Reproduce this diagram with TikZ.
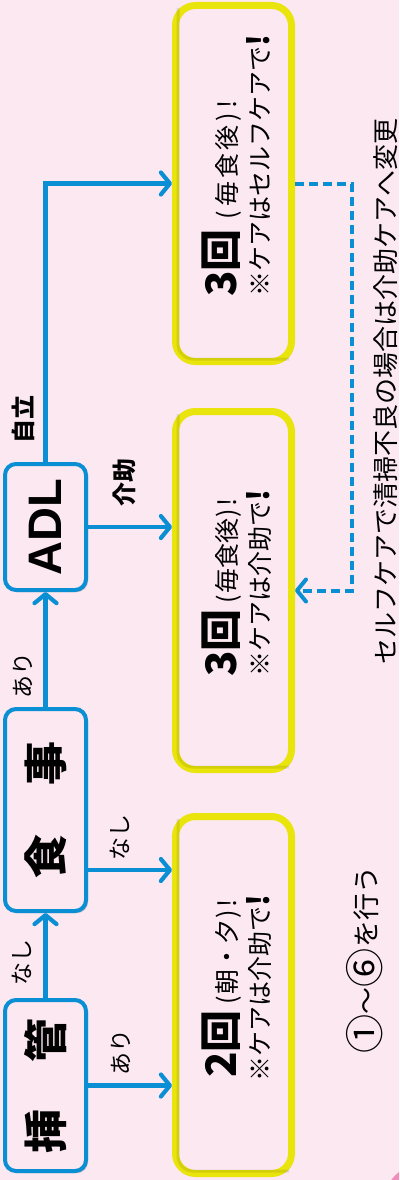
\documentclass[tikz,border=0pt]{standalone}
\usepackage{fontspec}
\setmainfont{Noto Sans CJK JP}
\newfontfamily\adlfont{Liberation Sans}
\usetikzlibrary{arrows.meta,shadows}
\definecolor{bg}{HTML}{FCE8F1}
\definecolor{blu}{HTML}{0A8ED4}
\definecolor{yel}{HTML}{E9E40C}
\definecolor{pk}{HTML}{F08DBA}
\newcommand{\circnum}[1]{\raisebox{-0.12em}{\scalebox{1.45}{#1}}}
\begin{document}
\begin{tikzpicture}[x=1pt,y=-1pt,
  bluebox/.style={draw=blu, line width=4pt, rounded corners=11pt, fill=bg, minimum width=81pt, inner sep=0pt,
    drop shadow={shadow xshift=2pt,shadow yshift=-2pt,opacity=.3,fill=black!70}},
  yelbox/.style={draw=yel, line width=7pt, rounded corners=20pt, fill=bg, minimum width=116pt, inner sep=0pt,
    drop shadow={shadow xshift=2.5pt,shadow yshift=-2.5pt,opacity=.3,fill=black!70}},
  inshade/.style={draw=black, opacity=.09, line width=3pt, rounded corners=15pt},
  arr/.style={draw=blu, line width=4.2pt, -{Straight Barb[round,length=9pt,width=22pt]}},
  dsh/.style={draw=blu, line width=4pt, dash pattern=on 9pt off 5pt, -{Straight Barb[round,length=9pt,width=22pt]}},
  lbl/.style={rotate=90, inner sep=0pt, font=\fontsize{23}{23}\selectfont},
  lblb/.style={rotate=90, inner sep=0pt, font=\fontsize{24}{24}\selectfont\bfseries},
  ln/.style={rotate=90, anchor=base west, inner sep=0pt}
]
\useasboundingbox (0,0) rectangle (399,1180);
\fill[bg] (0,0) rectangle (399,1180);
\begin{scope}
\clip (0,0) rectangle (399,1180);
\fill[pk] (425,1205) circle (42);
\end{scope}

% decision boxes
\node[bluebox, minimum height=171pt] (sokan) at (45.5,1085.5)
  {\rotatebox{90}{\fontsize{44}{44}\selectfont\bfseries 挿\hspace{47pt}管}};
\node[bluebox, minimum height=202pt] (shoku) at (45.5,810)
  {\rotatebox{90}{\fontsize{44}{44}\selectfont\bfseries 食\hspace{49pt}事}};
\node[bluebox, minimum height=126pt] (adl) at (45.5,527)
  {\rotatebox{90}{\fontsize{47}{47}\selectfont\adlfont\bfseries ADL}};

% result boxes
\node[yelbox, minimum height=357pt] (y1) at (233.5,995) {};
\node[yelbox, minimum height=358pt] (y2) at (233.5,590.5) {};
\node[yelbox, minimum height=356pt] (y3) at (233.5,183.5) {};
\foreach \b in {y1,y2,y3}{
  \draw[inshade] ([xshift=6pt,yshift=-6pt]\b.north west) -- ([xshift=6pt,yshift=6pt]\b.south west)
     -- ([xshift=-6pt,yshift=6pt]\b.south east);
}

\node[ln] (t1a) at (236,1078) {{\fontsize{42}{42}\selectfont\bfseries 2回}\hspace{6pt}{\fontsize{25}{25}\selectfont (\kern1pt 朝・夕\kern1pt)\kern3pt!}};
\node[ln] (t1b) at (269,1082) {\fontsize{25}{25}\selectfont ※ケアは介助で{\bfseries\fontsize{30}{30}\selectfont !}};
\node[ln] (t2a) at (236,677) {{\fontsize{42}{42}\selectfont\bfseries 3回}\hspace{6pt}{\fontsize{25}{25}\selectfont (\kern1pt 毎食後\kern1pt)\kern3pt!}};
\node[ln] (t2b) at (269,677) {\fontsize{25}{25}\selectfont ※ケアは介助で{\bfseries\fontsize{30}{30}\selectfont !}};
\node[ln] (t3a) at (236,297) {{\fontsize{42}{42}\selectfont\bfseries 3回}\hspace{10pt}{\fontsize{25}{25}\selectfont (\kern4pt 毎\kern3pt 食\kern3pt 後\kern4pt)\kern5pt!}};
\node[ln] (t3b) at (269,297) {\fontsize{25}{25}\selectfont ※ケアはセルフケアで{\bfseries\fontsize{30}{30}\selectfont !}};

% connectors
\coordinate (s1) at ([yshift=-60pt]shoku.east);
\coordinate (dc) at ([xshift=57pt]y3.east);
\draw[arr] (sokan.north) -- (shoku.south);
\draw[arr] (shoku.north) -- (adl.south);
\draw[arr] (adl.north) |- (y3.west);
\draw[arr] (sokan.east) -- (sokan.east -| y1.west);
\draw[arr] (s1) -- (s1 -| y1.west);
\draw[arr] (adl.east) -- (adl.east -| y2.west);
\draw[dsh] (y3.east) -- (dc) |- (y2.east);

% labels
\node[lbl] (l1) at (22,962) {なし};
\node[lbl] (l2) at (23,675) {あり};
\node[lbl] (l3) at (121,1052) {あり};
\node[lbl] (l4) at (120,837) {なし};
\node[lblb] (l5) at (124,482) {介助};
\node[lblb] (l6) at (23,419) {自立};

\node[rotate=90, inner sep=0pt, font=\fontsize{27}{27}\selectfont] (n1) at (365,960) {\circnum{①}〜\circnum{⑥}を行う};
\node[rotate=90, inner sep=0pt, font=\fontsize{26}{26}\selectfont] (n2) at (386,391) {セルフケアで清掃不良の場合は介助ケアへ変更};
\end{tikzpicture}
\end{document}
